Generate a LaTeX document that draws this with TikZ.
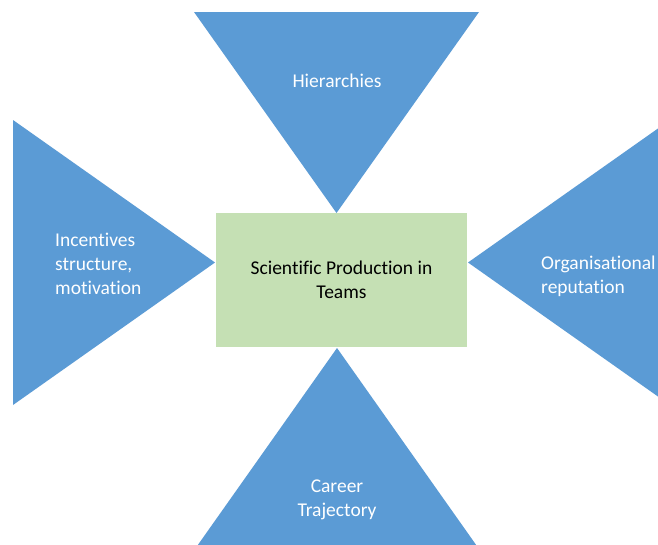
\documentclass[tikz,border=0pt]{standalone}
\usepackage{fontspec}
\setmainfont{Carlito}[Ligatures={NoCommon,NoRequired,NoContextual}]
\definecolor{triblue}{HTML}{5B9BD5}
\definecolor{boxgreen}{HTML}{C5E0B4}
\begin{document}
\begin{tikzpicture}[x=1pt,y=-1pt,
  tri/.style={fill=triblue, draw=none},
  lbl/.style={text=white, font=\fontsize{19.5}{24}\selectfont, inner sep=0pt},
  lblc/.style={lbl, align=center},
  lbll/.style={lbl, align=left, anchor=west}]
\useasboundingbox (0,0) rectangle (658,544);
\fill[white] (0,0) rectangle (658,544);
\begin{scope}
\clip (0,0) rectangle (658,544);
% triangles
\fill[tri] (194,12) -- (479,12) -- (336.5,213) -- cycle;
\fill[tri] (13,120) -- (13,405) -- (215,262.5) -- cycle;
\fill[tri] (670,120) -- (670,405) -- (468,262.5) -- cycle;
\fill[tri] (195,549) -- (479,549) -- (337,348) -- cycle;
% center box
\node[fill=boxgreen, draw=none, minimum width=251pt, minimum height=134pt, inner sep=0pt,
      font=\fontsize{19.5}{24}\selectfont, align=center, text=black]
  (center) at (341.5,280) {Scientific Production in\\Teams};
\end{scope}
\node[lblc] (hier) at (337,81) {Hierarchies};
\node[lbll] (inc) at (55,264) {Incentives\\structure,\\motivation};
\node[lbll] (org) at (541,276) {Organisational\\reputation};
\node[lblc] (car) at (337,500) {Career\\Trajectory};
\end{tikzpicture}
\end{document}
